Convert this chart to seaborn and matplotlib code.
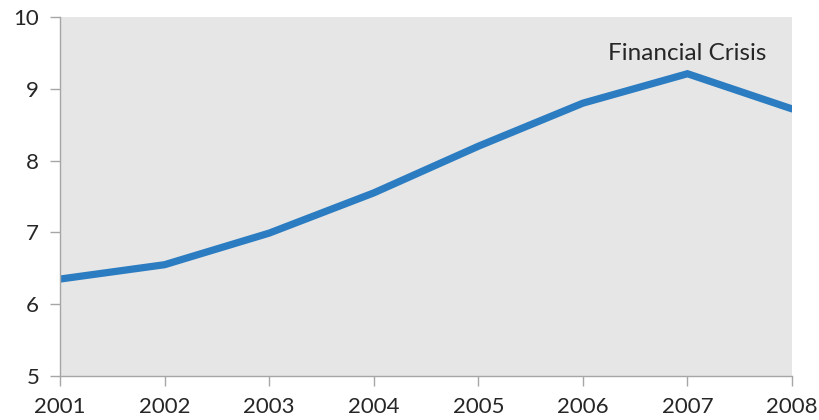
import matplotlib
matplotlib.use("Agg")
import matplotlib.pyplot as plt
import seaborn as sns
import pandas as pd

years = [2001, 2002, 2003, 2004, 2005, 2006, 2007, 2008]
values = [6.35, 6.55, 6.99, 7.55, 8.20, 8.80, 9.21, 8.72]
y_ticks = [5, 6, 7, 8, 9, 10]
annotation_text = "Financial Crisis"
annotation_year = 2007

df = pd.DataFrame({"year": years, "value": values})

sns.set_style("white")
plt.rcParams["font.family"] = ["Lato", "DejaVu Sans"]

fig, ax = plt.subplots(figsize=(8.2, 4.2), dpi=100)
fig.subplots_adjust(left=0.0732, right=0.9659, top=0.9595, bottom=0.1048)

ax.set_facecolor("#e6e6e6")
sns.lineplot(data=df, x="year", y="value", ax=ax, color="#2b7cc1",
             linewidth=5.2, solid_joinstyle="miter")

ax.set_xlim(years[0], years[-1])
ax.set_ylim(y_ticks[0], y_ticks[-1])
ax.set_xticks(years)
ax.set_yticks(y_ticks)
ax.set_xlabel("")
ax.set_ylabel("")

for side in ("top", "right"):
    ax.spines[side].set_visible(False)
for side in ("left", "bottom"):
    ax.spines[side].set_color("#a6a6a6")
    ax.spines[side].set_linewidth(1.0)

ax.tick_params(axis="both", which="major", length=7, width=1.0,
               color="#a6a6a6", labelsize=16, labelcolor="#262626",
               direction="out")
ax.tick_params(axis="x", pad=8)
ax.tick_params(axis="y", pad=8)
ax.xaxis.set_ticks_position("bottom")
ax.yaxis.set_ticks_position("left")

ax.text(annotation_year, 9.40, annotation_text, ha="center", va="baseline",
        fontsize=17.5, color="#262626")

fig.savefig("out.png", dpi=100)
